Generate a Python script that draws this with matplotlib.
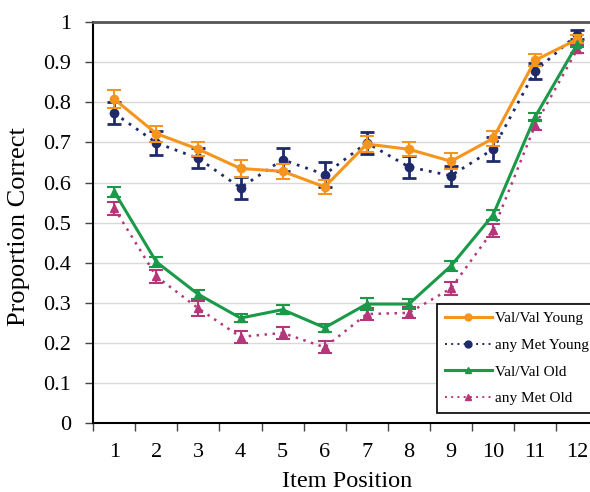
import matplotlib.pyplot as plt
from matplotlib.lines import Line2D
import numpy as np

positions = np.arange(1, 13)
tick_labels = [str(i) for i in positions]

valval_young = [0.808, 0.722, 0.683, 0.635, 0.628, 0.589, 0.696, 0.683, 0.653, 0.710, 0.905, 0.957]
valval_young_err = [0.022, 0.020, 0.018, 0.020, 0.018, 0.018, 0.020, 0.018, 0.020, 0.018, 0.015, 0.010]
anymet_young = [0.773, 0.699, 0.660, 0.587, 0.657, 0.620, 0.699, 0.639, 0.617, 0.683, 0.878, 0.969]
anymet_young_err = [0.028, 0.030, 0.025, 0.028, 0.028, 0.030, 0.028, 0.028, 0.025, 0.030, 0.020, 0.012]
valval_old = [0.577, 0.402, 0.321, 0.262, 0.283, 0.238, 0.297, 0.297, 0.392, 0.519, 0.764, 0.945]
valval_old_err = [0.012, 0.012, 0.012, 0.010, 0.012, 0.010, 0.014, 0.012, 0.012, 0.012, 0.010, 0.008]
anymet_old = [0.536, 0.366, 0.286, 0.215, 0.225, 0.189, 0.272, 0.275, 0.336, 0.481, 0.743, 0.932]
anymet_old_err = [0.016, 0.016, 0.018, 0.015, 0.015, 0.015, 0.014, 0.014, 0.016, 0.016, 0.012, 0.010]

series_names = ['Val/Val Young', 'any Met Young', 'Val/Val Old', 'any Met Old']
colors = ['#F7941D', '#1F2A6B', '#1A9A48', '#B5377A']

plt.rcParams['font.family'] = ['Liberation Serif', 'DejaVu Serif']

fig = plt.figure(figsize=(5.9, 4.92), dpi=100)
ax = fig.add_axes([0.158, 0.140, 0.856, 0.815])

dotted = (0, (1, 2.2))
styles = [('-', 'o', 2.2, 1.5), (dotted, 'o', 2.0, 2.0), ('-', '^', 2.2, 1.5), (dotted, '^', 1.8, 1.5)]
all_vals = [valval_young, anymet_young, valval_old, anymet_old]
all_errs = [valval_young_err, anymet_young_err, valval_old_err, anymet_old_err]

handles = []
for vals, errs, name, c, (ls, mk, lw, ew) in zip(all_vals, all_errs, series_names, colors, styles):
    ax.errorbar(positions, vals, yerr=errs, color=c, lw=lw, ls=ls, marker=mk, ms=6,
                capsize=5, elinewidth=ew, capthick=ew, zorder=4 if ls == '-' else 3)
    handles.append(Line2D([], [], color=c, lw=lw if ls == '-' else 1.4, ls=ls, marker=mk, ms=5, label=name))

ax.set_xlim(0.5, 12.5)
ax.set_ylim(0, 1)
ax.set_yticks(np.arange(0, 1.01, 0.1))
ax.set_yticklabels(['0', '0.1', '0.2', '0.3', '0.4', '0.5', '0.6', '0.7', '0.8', '0.9', '1'])
ax.set_xticks(positions)
ax.set_xticklabels(tick_labels)
ax.set_xticks(np.arange(0.5, 12.6, 1), minor=True)
ax.tick_params(axis='x', which='major', length=0, labelsize=16, pad=14)
ax.tick_params(axis='x', which='minor', length=6, width=1, color='#444444', direction='out')
ax.tick_params(axis='y', length=6, width=1, color='#444444', labelsize=16, pad=10)
ax.grid(axis='y', color='#d9d9d9', lw=1)
ax.set_axisbelow(True)
for s in ['left', 'bottom']:
    ax.spines[s].set_color('black')
    ax.spines[s].set_linewidth(1.5)
ax.spines['top'].set_color('#555555')
ax.spines['top'].set_linewidth(2)
ax.spines['right'].set_visible(False)

ax.set_xlabel('Item Position', fontsize=17.5)
ax.xaxis.set_label_coords(0.502, -0.12)
ax.set_ylabel('Proportion Correct', fontsize=19)
ax.yaxis.set_label_coords(-0.125, 0.49)

leg = ax.legend(handles=handles, loc='upper left', bbox_to_anchor=(437 / 590, 1 - 304 / 492),
                bbox_transform=fig.transFigure, fontsize=11, frameon=True, fancybox=False,
                edgecolor='black', framealpha=1, handlelength=3.1, borderpad=0.5,
                labelspacing=0.85, handletextpad=0.2, borderaxespad=0)
leg.get_frame().set_linewidth(1.2)

fig.savefig('out.png', dpi=100)
